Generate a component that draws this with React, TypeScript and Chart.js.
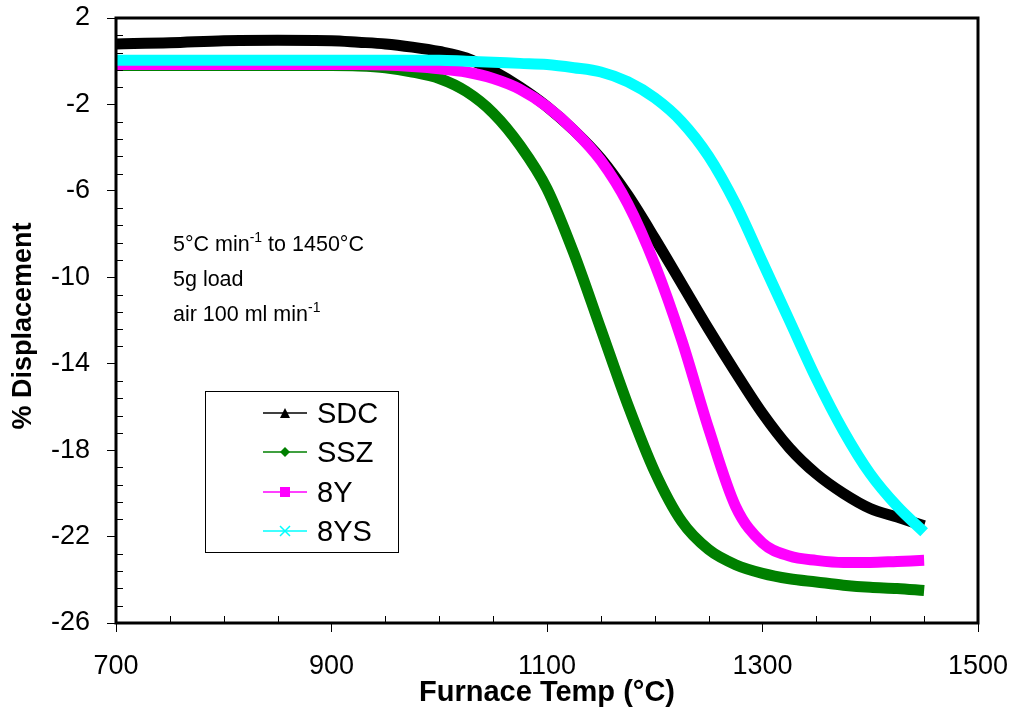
import { useEffect, useRef } from 'react';
import { Chart, registerables } from 'chart.js';

Chart.register(...registerables);

// ---- data ----
const temperatures = [700, 750, 800, 850, 900, 925, 950, 975, 1000, 1025, 1050, 1075, 1100, 1125, 1150, 1175, 1200, 1225, 1250, 1275, 1300, 1325, 1350, 1375, 1400, 1425, 1450];
const sdcValues = [0.8, 0.85, 0.95, 0.97, 0.95, 0.88, 0.8, 0.65, 0.45, 0.15, -0.45, -1.2, -2.1, -3.2, -4.5, -6.2, -8.2, -10.3, -12.4, -14.4, -16.3, -17.9, -19.1, -20.0, -20.7, -21.1, -21.5];
const sszValues = [-0.2, -0.2, -0.2, -0.2, -0.2, -0.22, -0.3, -0.5, -0.8, -1.4, -2.4, -3.9, -5.9, -8.9, -12.4, -15.9, -19.0, -21.3, -22.6, -23.3, -23.7, -23.95, -24.1, -24.25, -24.35, -24.4, -24.5];
const y8Values = [-0.15, -0.15, -0.15, -0.15, -0.15, -0.15, -0.18, -0.25, -0.35, -0.5, -0.8, -1.3, -2.1, -3.2, -4.6, -6.6, -9.4, -12.9, -17.0, -20.6, -22.3, -22.9, -23.1, -23.2, -23.2, -23.15, -23.1];
const y8sValues = [0.05, 0.05, 0.05, 0.05, 0.05, 0.05, 0.05, 0.05, 0.05, 0.0, -0.05, -0.1, -0.15, -0.3, -0.5, -0.95, -1.7, -2.8, -4.4, -6.6, -9.3, -12.0, -14.7, -17.1, -19.1, -20.6, -21.8];

const seriesNames = ['SDC', 'SSZ', '8Y', '8YS'];
const seriesColors = ['#000000', '#008000', '#FF00FF', '#00FFFF'];
const seriesMarkers = ['triangle', 'diamond', 'square', 'cross'];

const xMin = 700;
const xMax = 1500;
const xMajorStep = 200;
const xMinorStep = 50;
const yMin = -26;
const yMax = 2;
const yMajorStep = 4;
const yMinorStep = 0.8;

const xTitle = 'Furnace Temp (°C)';
const yTitle = '% Displacement';
const noteLines = [
  [{ t: '5°C min' }, { t: '-1', sup: true }, { t: ' to 1450°C' }],
  [{ t: '5g load' }],
  [{ t: 'air 100 ml min' }, { t: '-1', sup: true }],
];

const FONT = '"Liberation Sans", Arial, sans-serif';

const toPoints = (vals: number[]) => temperatures.map((t, i) => ({ x: t, y: vals[i] }));

const framePlugin = {
  id: 'frameAndMinor',
  afterDraw(chart: any) {
    const { ctx, chartArea, scales } = chart;
    const x = scales.x;
    const y = scales.y;
    ctx.save();
    ctx.strokeStyle = '#000';
    ctx.lineWidth = 1;
    ctx.beginPath();
    for (let v = xMin; v <= xMax + 1e-6; v += xMinorStep) {
      if ((v - xMin) % xMajorStep === 0) continue;
      const px = Math.round(x.getPixelForValue(v)) + 0.5;
      ctx.moveTo(px, chartArea.bottom);
      ctx.lineTo(px, chartArea.bottom - 7);
    }
    const n = Math.round((yMax - yMin) / yMinorStep);
    const per = Math.round(yMajorStep / yMinorStep);
    for (let i = 0; i <= n; i++) {
      if (i % per === 0) continue;
      const v = yMin + i * yMinorStep;
      const py = Math.round(y.getPixelForValue(v)) + 0.5;
      ctx.moveTo(chartArea.left, py);
      ctx.lineTo(chartArea.left + 7, py);
    }
    ctx.stroke();
    ctx.lineWidth = 3;
    ctx.strokeRect(chartArea.left, chartArea.top, chartArea.right - chartArea.left, chartArea.bottom - chartArea.top);
    ctx.restore();
  },
};

function drawMarker(ctx: CanvasRenderingContext2D, kind: string, cx: number, cy: number, color: string) {
  ctx.save();
  ctx.fillStyle = color;
  ctx.strokeStyle = color;
  const r = 5;
  ctx.beginPath();
  if (kind === 'triangle') {
    ctx.moveTo(cx, cy - r);
    ctx.lineTo(cx + r, cy + r);
    ctx.lineTo(cx - r, cy + r);
    ctx.closePath();
    ctx.fill();
  } else if (kind === 'diamond') {
    ctx.moveTo(cx, cy - r);
    ctx.lineTo(cx + r, cy);
    ctx.lineTo(cx, cy + r);
    ctx.lineTo(cx - r, cy);
    ctx.closePath();
    ctx.fill();
  } else if (kind === 'square') {
    ctx.rect(cx - r, cy - r, 2 * r, 2 * r);
    ctx.fill();
  } else {
    ctx.lineWidth = 1.5;
    ctx.moveTo(cx - r, cy - r);
    ctx.lineTo(cx + r, cy + r);
    ctx.moveTo(cx + r, cy - r);
    ctx.lineTo(cx - r, cy + r);
    ctx.stroke();
  }
  ctx.restore();
}

const legendPlugin = {
  id: 'boxLegend',
  afterDraw(chart: any) {
    const { ctx } = chart;
    ctx.save();
    const bx = 205, by = 391, bw = 193, bh = 161;
    ctx.fillStyle = '#fff';
    ctx.fillRect(bx, by, bw, bh);
    ctx.strokeStyle = '#000';
    ctx.lineWidth = 1;
    ctx.strokeRect(bx + 0.5, by + 0.5, bw, bh);
    const rows = [413, 452, 492, 531];
    seriesNames.forEach((name, i) => {
      const cy = rows[i];
      ctx.strokeStyle = seriesColors[i];
      ctx.lineWidth = 1.5;
      ctx.beginPath();
      ctx.moveTo(263, cy);
      ctx.lineTo(307, cy);
      ctx.stroke();
      drawMarker(ctx, seriesMarkers[i], 285, cy, seriesColors[i]);
      ctx.fillStyle = '#000';
      ctx.font = `29px ${FONT}`;
      ctx.textBaseline = 'alphabetic';
      ctx.textAlign = 'left';
      ctx.fillText(name, 317, cy + 10);
    });
    ctx.restore();
  },
};

const notePlugin = {
  id: 'note',
  afterDraw(chart: any) {
    const { ctx } = chart;
    ctx.save();
    ctx.fillStyle = '#000';
    ctx.textBaseline = 'alphabetic';
    ctx.textAlign = 'left';
    const baselines = [251, 286, 321];
    noteLines.forEach((runs, i) => {
      let x = 173;
      const y = baselines[i];
      runs.forEach((run: any) => {
        ctx.font = run.sup ? `14px ${FONT}` : `21.5px ${FONT}`;
        ctx.fillText(run.t, x, run.sup ? y - 9 : y);
        x += ctx.measureText(run.t).width;
      });
    });
    ctx.restore();
  },
};

const yTitlePlugin = {
  id: 'yTitle',
  afterDraw(chart: any) {
    const { ctx } = chart;
    ctx.save();
    ctx.translate(24, 326);
    ctx.rotate(-Math.PI / 2);
    ctx.fillStyle = '#000';
    ctx.font = `bold 27px ${FONT}`;
    ctx.textAlign = 'center';
    ctx.textBaseline = 'middle';
    ctx.fillText(yTitle, 0, 0);
    ctx.restore();
  },
};

export default function App() {
  const ref = useRef<HTMLCanvasElement | null>(null);
  useEffect(() => {
    if (!ref.current) return;
    const datasets = [sdcValues, sszValues, y8Values, y8sValues].map((vals, i) => ({
      label: seriesNames[i],
      data: toPoints(vals),
      borderColor: seriesColors[i],
      backgroundColor: seriesColors[i],
      borderWidth: 11,
      pointRadius: 0,
      cubicInterpolationMode: 'monotone' as const,
      order: 4 - i,
    }));
    const chart = new Chart(ref.current, {
      type: 'line',
      data: { datasets },
      options: {
        animation: false,
        responsive: false,
        devicePixelRatio: 1,
        layout: { padding: { top: 18, right: 40, left: 0, bottom: 0 } },
        plugins: { legend: { display: false }, tooltip: { enabled: false } },
        scales: {
          x: {
            type: 'linear',
            min: xMin,
            max: xMax,
            afterFit: (s: any) => { s.height = 92; s.paddingLeft = 0; s.paddingRight = 0; },
            ticks: { stepSize: xMajorStep, color: '#000', font: { family: FONT, size: 27 }, padding: 18, maxRotation: 0, callback: (v: any) => String(v) },
            grid: { drawOnChartArea: false, drawTicks: true, tickLength: 9, tickColor: '#000', color: '#000' },
            border: { display: false },
            title: { display: true, text: xTitle, color: '#000', font: { family: FONT, size: 29, weight: 'bold' }, padding: { top: 0, bottom: 5 } },
          },
          y: {
            type: 'linear',
            min: yMin,
            max: yMax,
            afterFit: (s: any) => { s.width = 116; s.paddingTop = 0; s.paddingBottom = 0; },
            ticks: { stepSize: yMajorStep, color: '#000', font: { family: FONT, size: 27 }, padding: 17, callback: (v: any) => String(v) },
            grid: { drawOnChartArea: false, drawTicks: true, tickLength: 9, tickColor: '#000', color: '#000' },
            border: { display: false },
            title: { display: false, text: yTitle },
          },
        },
      },
      plugins: [framePlugin, notePlugin, legendPlugin, yTitlePlugin],
    });
    return () => chart.destroy();
  }, []);
  return (
    <div style={{ position: 'fixed', left: 0, top: 0, width: 1018, height: 715, background: '#fff' }}>
      <canvas ref={ref} width={1018} height={715} style={{ display: 'block', width: 1018, height: 715 }} />
    </div>
  );
}
